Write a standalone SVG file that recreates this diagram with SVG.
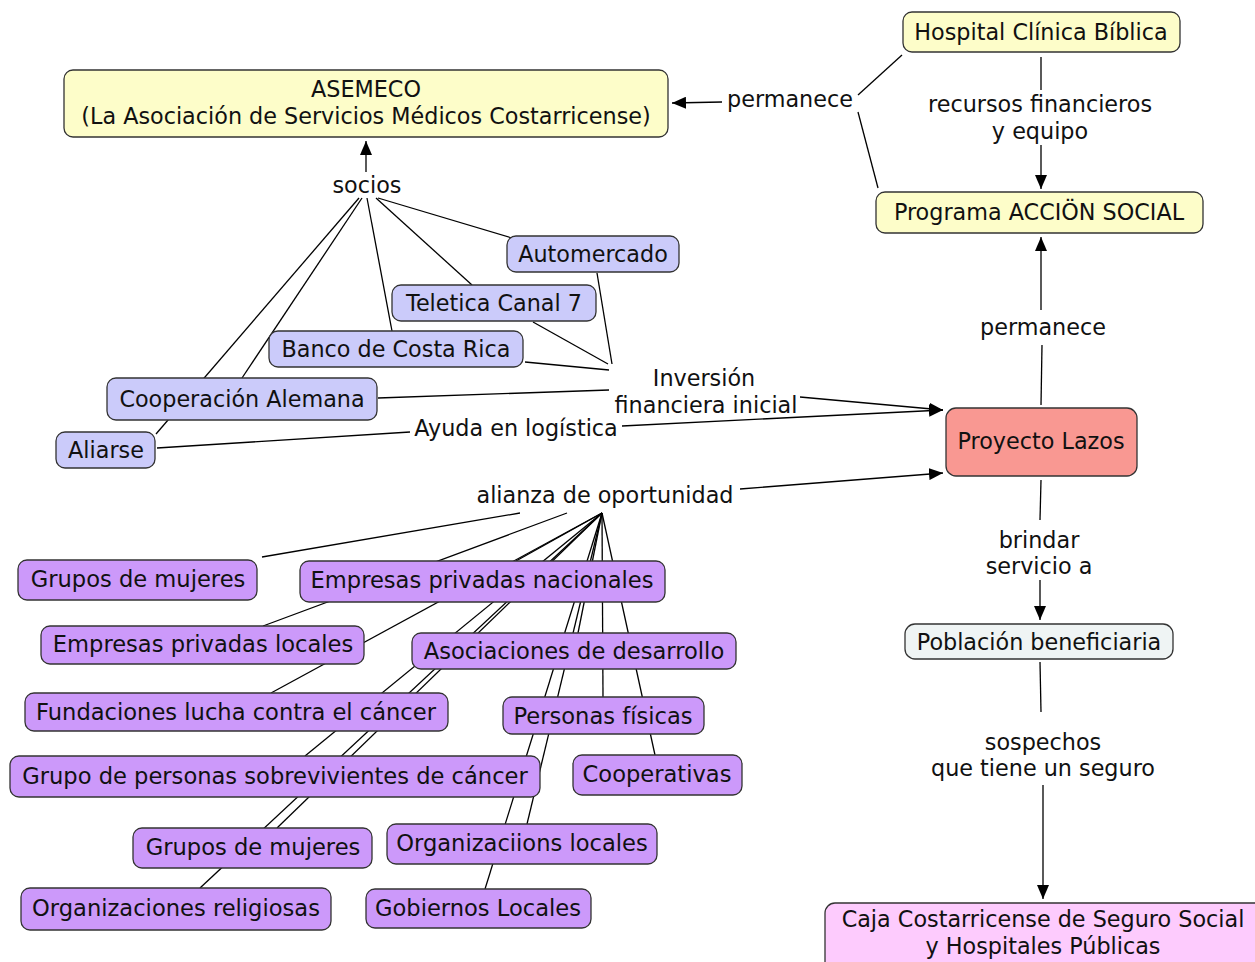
<svg xmlns="http://www.w3.org/2000/svg" width="1255" height="962" viewBox="0 0 1255 962">
<defs>
<marker id="arr" markerUnits="userSpaceOnUse" markerWidth="14" markerHeight="12" refX="14" refY="6" orient="auto">
<path d="M0,0 L14,6 L0,12 z" fill="#000"/>
</marker>
<style>
text{font-family:"DejaVu Sans","Verdana",sans-serif;font-size:22.3px;fill:#111;text-anchor:middle}
.p text{font-size:22.6px}
.n rect{stroke:#333;stroke-width:1.3}
.y rect{fill:#fdfdc9}
.l rect{fill:#cbcbfa}
.p rect{fill:#cc99fa}
#conn path{stroke:#000;stroke-width:1.3;fill:none}
#conn .a{marker-end:url(#arr)}
</style>
</defs>
<rect x="0" y="0" width="1255" height="962" style="fill:#fff;stroke:none"/>
<g id="conn">
<path d="M902,55 L858,95"/>
<path d="M878,188 L858,112"/>
<path class="a" d="M722,102 L672,103"/>
<path d="M1041,57 L1041,90"/>
<path class="a" d="M1041,145 L1041,189"/>
<path class="a" d="M366,172 L366,141"/>
<path d="M378,198 L512,238"/>
<path d="M376,198 L472,285"/>
<path d="M367,198 L392,331"/>
<path d="M362,198 L242,378"/>
<path d="M359,198 L156,434"/>
<path d="M597,273 L612,364"/>
<path d="M533,322 L608,364"/>
<path d="M525,362 L609,370"/>
<path d="M378,398 L609,390"/>
<path class="a" d="M800,397 L943,410"/>
<path d="M157,448 L410,432"/>
<path class="a" d="M622,426 L943,410"/>
<path class="a" d="M740,489 L943,473"/>
<path d="M520,513 L262,557"/>
<path d="M567,513 L263,626"/>
<path d="M602,513 L516,561"/>
<path d="M602,513 L271,693"/>
<path d="M602,513 L305,756"/>
<path d="M602,513 L277,828"/>
<path d="M602,513 L200,888"/>
<path d="M602,513 L578,633"/>
<path d="M602,513 L527,824"/>
<path d="M602,513 L485,889"/>
<path d="M602,513 L603,697"/>
<path d="M602,513 L655,755"/>
<path class="a" d="M1041,310 L1041,237"/>
<path d="M1041,405 L1042,345"/>
<path d="M1041,480 L1040,520"/>
<path class="a" d="M1040,580 L1040,620"/>
<path d="M1040,662 L1041,712"/>
<path class="a" d="M1043,785 L1043,899"/>
</g>
<g id="labels">
<text x="790" y="107">permanece</text>
<text x="1040" y="112">recursos financieros</text>
<text x="1040" y="139">y equipo</text>
<text x="367" y="193">socios</text>
<text x="704" y="386">Inversión</text>
<text x="706" y="413">financiera inicial</text>
<text x="516" y="436">Ayuda en logística</text>
<text x="605" y="503">alianza de oportunidad</text>
<text x="1043" y="335">permanece</text>
<text x="1039" y="548">brindar</text>
<text x="1039" y="574">servicio a</text>
<text x="1043" y="750">sospechos</text>
<text x="1043" y="776">que tiene un seguro</text>
</g>
<g id="asemeco" class="n y"><rect x="64" y="70" width="604" height="67" rx="9"/><text x="366" y="97">ASEMECO</text><text x="366" y="124">(La Asociación de Servicios Médicos Costarricense)</text></g>
<g id="hospital" class="n y"><rect x="903" y="12" width="277" height="40" rx="9"/><text x="1041" y="40">Hospital Clínica Bíblica</text></g>
<g id="programa" class="n y"><rect x="876" y="192" width="327" height="41" rx="9"/><text x="1039" y="220">Programa ACCIÖN SOCIAL</text></g>
<g id="automercado" class="n l"><rect x="507" y="236" width="172" height="36" rx="9"/><text x="593" y="262">Automercado</text></g>
<g id="teletica" class="n l"><rect x="392" y="285" width="204" height="36" rx="9"/><text x="494" y="311">Teletica Canal 7</text></g>
<g id="banco" class="n l"><rect x="269" y="331" width="254" height="36" rx="9"/><text x="396" y="357">Banco de Costa Rica</text></g>
<g id="cooperacion" class="n l"><rect x="107" y="378" width="270" height="42" rx="9"/><text x="242" y="407">Cooperación Alemana</text></g>
<g id="aliarse" class="n l"><rect x="56" y="432" width="99" height="36" rx="9"/><text x="106" y="458">Aliarse</text></g>
<g id="lazos" class="n"><rect x="946" y="408" width="191" height="68" rx="10" fill="#f99892"/><text x="1041" y="449">Proyecto Lazos</text></g>
<g id="poblacion" class="n"><rect x="905" y="624" width="268" height="35" rx="10" fill="#eff4f4"/><text x="1039" y="650">Población beneficiaria</text></g>
<g id="caja" class="n"><rect x="825" y="903" width="440" height="75" rx="10" fill="#fdcbfd"/><text x="1043" y="927">Caja Costarricense de Seguro Social</text><text x="1043" y="954">y Hospitales Públicas</text></g>
<g id="grupos1" class="n p"><rect x="18" y="560" width="239" height="40" rx="9"/><text x="138" y="587">Grupos de mujeres</text></g>
<g id="empnac" class="n p"><rect x="300" y="561" width="365" height="41" rx="9"/><text x="482" y="588">Empresas privadas nacionales</text></g>
<g id="emploc" class="n p"><rect x="41" y="626" width="323" height="38" rx="9"/><text x="203" y="652">Empresas privadas locales</text></g>
<g id="asoc" class="n p"><rect x="412" y="633" width="324" height="36" rx="9"/><text x="574" y="659">Asociaciones de desarrollo</text></g>
<g id="fund" class="n p"><rect x="25" y="693" width="423" height="38" rx="9"/><text x="236" y="720">Fundaciones lucha contra el cáncer</text></g>
<g id="personas" class="n p"><rect x="503" y="697" width="201" height="37" rx="9"/><text x="603" y="724">Personas físicas</text></g>
<g id="gruposob" class="n p"><rect x="10" y="756" width="530" height="41" rx="9"/><text x="275" y="784">Grupo de personas sobrevivientes de cáncer</text></g>
<g id="coop" class="n p"><rect x="573" y="755" width="169" height="40" rx="9"/><text x="657" y="782">Cooperativas</text></g>
<g id="grupos2" class="n p"><rect x="133" y="828" width="239" height="40" rx="9"/><text x="253" y="855">Grupos de mujeres</text></g>
<g id="orgloc" class="n p"><rect x="387" y="824" width="270" height="40" rx="9"/><text x="522" y="851">Organizaciions locales</text></g>
<g id="orgrel" class="n p"><rect x="21" y="888" width="310" height="42" rx="9"/><text x="176" y="916">Organizaciones religiosas</text></g>
<g id="gob" class="n p"><rect x="366" y="889" width="225" height="39" rx="9"/><text x="478" y="916">Gobiernos Locales</text></g>
</svg>
